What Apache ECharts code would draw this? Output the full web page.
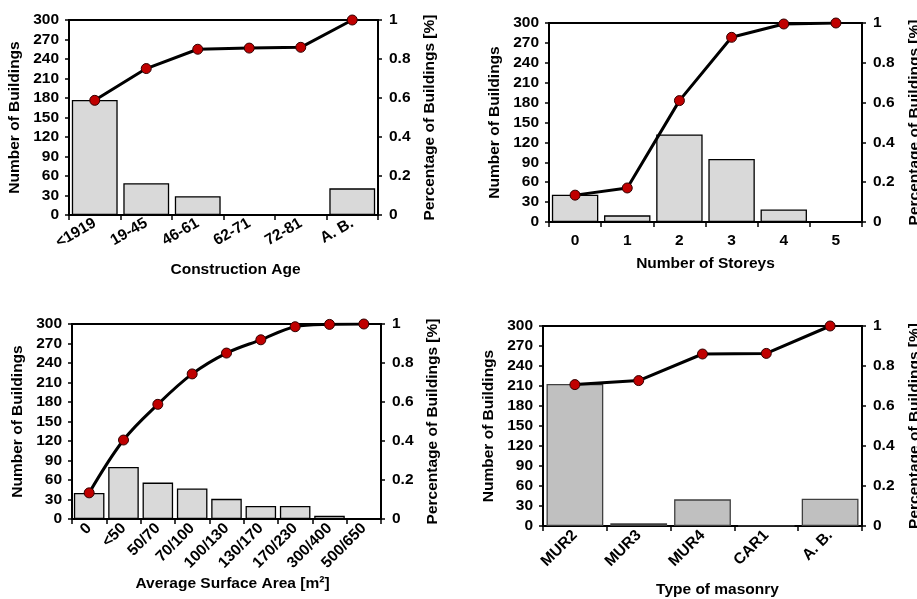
<!DOCTYPE html>
<html>
<head>
<meta charset="utf-8">
<script src="https://cdn.jsdelivr.net/npm/echarts@6/dist/echarts.min.js"></script>
<style>
html,body{margin:0;padding:0;background:#fff;}
#chart{width:917px;height:599px;}
</style>
</head>
<body>
<div id="chart"></div>
<script>
// ---- Data ----
const ageCats = ['<1919', '19-45', '46-61', '62-71', '72-81', 'A. B.'];
const ageCounts = [177, 49, 29, 1, 1, 41];
const ageCum = [0.588, 0.751, 0.850, 0.856, 0.860, 1.0];

const storeyCats = ['0', '1', '2', '3', '4', '5'];
const storeyCounts = [41, 10, 132, 95, 19, 1];
const storeyCum = [0.135, 0.171, 0.610, 0.928, 0.995, 1.0];

const areaCats = ['0', '<50', '50/70', '70/100', '100/130', '130/170', '170/230', '300/400', '500/650'];
const areaCounts = [40, 80, 56, 47, 31, 20, 20, 5, 1];
const areaCum = [0.134, 0.405, 0.588, 0.744, 0.851, 0.919, 0.986, 0.998, 1.0];

const masonryCats = ['MUR2', 'MUR3', 'MUR4', 'CAR1', 'A. B.'];
const masonryCounts = [213, 4, 40, 0.5, 41];
const masonryCum = [0.707, 0.727, 0.860, 0.863, 1.0];

const leftTicks = {min: 0, max: 300, interval: 30};
const rightTicks = {min: 0, max: 1, interval: 0.2};

// ---- Chart ----
const FONT = '"Liberation Sans", Arial, sans-serif';
const txt = {fontFamily: FONT, fontWeight: 'bold', fontSize: 15.5, color: '#000'};

const panels = [
  {cats: ageCats, counts: ageCounts, cum: ageCum, xName: 'Construction Age',
   grid: {left: 69, top: 20, width: 309, height: 195}, rotate: 30, labelMargin: 7, nameGap: 47, namePad: [0, 0, 0, 24],
   rightGap: 44, barColor: '#d9d9d9', barBorder: '#000', smooth: false},
  {cats: storeyCats, counts: storeyCounts, cum: storeyCum, xName: 'Number of Storeys',
   grid: {left: 549, top: 23, width: 313, height: 199}, rotate: 0, labelMargin: 11, nameGap: 34, namePad: [0, 0, 0, 0],
   rightGap: 45, barColor: '#d9d9d9', barBorder: '#000', smooth: false},
  {cats: areaCats, counts: areaCounts, cum: areaCum, xName: 'Average Surface Area [m\u00B2]',
   grid: {left: 72, top: 324, width: 309, height: 195}, rotate: 45, labelMargin: 7, nameGap: 57, namePad: [0, 0, 0, 12],
   rightGap: 44, barColor: '#d9d9d9', barBorder: '#000', smooth: 0.35},
  {cats: masonryCats, counts: masonryCounts, cum: masonryCum, xName: 'Type of masonry',
   grid: {left: 543, top: 326, width: 319, height: 200}, rotate: 45, labelMargin: 7, nameGap: 56, namePad: [0, 0, 0, 30],
   rightGap: 45, barColor: '#c0c0c0', barBorder: '#404040', smooth: false}
];

const grid = [], xAxis = [], yAxis = [], series = [];
panels.forEach((p, i) => {
  grid.push(Object.assign({show: true, borderColor: '#000', borderWidth: 2, backgroundColor: 'transparent',
    containLabel: false, outerBoundsMode: 'none'}, p.grid));
  xAxis.push({
    type: 'category', gridIndex: i, data: p.cats,
    name: p.xName, nameLocation: 'middle', nameGap: p.nameGap,
    nameTextStyle: Object.assign({}, txt, {padding: p.namePad}),
    axisLine: {lineStyle: {color: '#000', width: 2}},
    axisTick: {show: true, length: 5, alignWithLabel: false, lineStyle: {color: '#000', width: 1.5}},
    axisLabel: Object.assign({}, txt, {rotate: p.rotate, margin: p.labelMargin, interval: 0}),
    splitLine: {show: false}
  });
  yAxis.push(Object.assign({
    type: 'value', gridIndex: i, position: 'left',
    name: 'Number of Buildings', nameLocation: 'middle', nameGap: 46, nameRotate: 90,
    nameTextStyle: txt,
    axisLine: {show: true, lineStyle: {color: '#000', width: 2}},
    axisTick: {show: true, length: 4, lineStyle: {color: '#000', width: 1.5}},
    axisLabel: Object.assign({}, txt, {margin: 10}),
    splitLine: {show: false}
  }, leftTicks));
  yAxis.push(Object.assign({
    type: 'value', gridIndex: i, position: 'right',
    name: 'Percentage of Buildings [%]', nameLocation: 'middle', nameGap: p.rightGap, nameRotate: 90,
    nameTextStyle: txt,
    axisLine: {show: true, lineStyle: {color: '#000', width: 2}},
    axisTick: {show: true, length: 4, lineStyle: {color: '#000', width: 1.5}},
    axisLabel: Object.assign({}, txt, {margin: 11}),
    splitLine: {show: false}
  }, rightTicks));
  series.push({
    type: 'bar', xAxisIndex: i, yAxisIndex: 2 * i, data: p.counts,
    barCategoryGap: '11%',
    itemStyle: {color: p.barColor, borderColor: p.barBorder, borderWidth: 1.3},
    z: 2, silent: true
  });
  series.push({
    type: 'line', xAxisIndex: i, yAxisIndex: 2 * i + 1, data: p.cum,
    smooth: p.smooth,
    lineStyle: {color: '#000', width: 3},
    symbol: 'circle', symbolSize: 10,
    itemStyle: {color: '#c00000', borderColor: '#300000', borderWidth: 1},
    z: 3, silent: true
  });
});

const chart = echarts.init(document.getElementById('chart'), null, {renderer: 'canvas'});
chart.setOption({animation: false, backgroundColor: '#fff', grid, xAxis, yAxis, series});
</script>
</body>
</html>
